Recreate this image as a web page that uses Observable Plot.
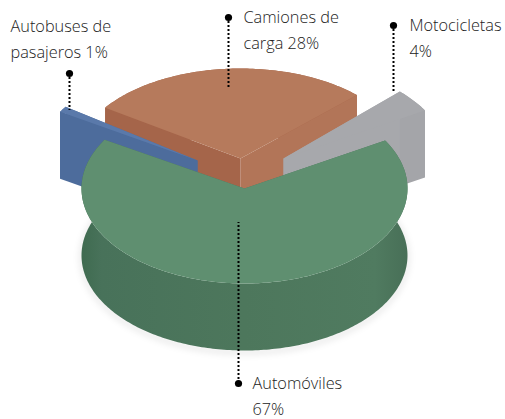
<!DOCTYPE html>
<html><head><meta charset="utf-8">
<style>
html,body{margin:0;padding:0;background:#fff}
svg{display:block}
.slice{filter:blur(.7px)}
.halo{filter:blur(3px)}
</style>
<script src="https://cdn.jsdelivr.net/npm/d3@7"></script>
<script src="https://cdn.jsdelivr.net/npm/@observablehq/plot@0.6"></script>
</head><body><div id="chart"></div>
<script>
// Data, in pie order (clockwise from the upper left)
const categories = ["Camiones de carga", "Motocicletas", "Automóviles", "Autobuses de pasajeros"];
const shares = [28, 4, 67, 1];
const labelTexts = ["Camiones de\ncarga 28%", "Motocicletas\n4%", "Automóviles\n67%", "Autobuses de\npasajeros 1%"];

// Styling and layout, kept apart from the data
const topFill = ["#b67a5c", "#a7a8ac", "#5f8f70", "#5a79aa"];
const startFill = ["#a5654a", "#a7a8ac", "#4c765b", "#4d6c9c"];
const endFill = ["#b27558", "#a4a5a9", "#4c765b", "#4d6c9c"];
const rimFill = ["#a5654a", "#a4a5a9", "url(#greenRim)", "#4d6c9c"];
const centerX = [240, 283, 244, 197];
const centerY = [158, 158, 188, 160];
const radiusX = [164, 164, 163, 160];
const radiusY = [90, 95, 95, 95];
const depth = 67;
const firstAngle = -145.6;
const labelX = [243, 409, 252, 10];
const labelY = [27, 35, 393, 36];
const leaderX = [228, 393, 238, 69];
const leaderFrom = [17, 25, 383, 73];
const leaderTo = [87, 93, 222, 110];

const total = d3.sum(shares);
const rad = (d) => (d * Math.PI) / 180;
let cursor = firstAngle;
const slices = shares.map((v, i) => {
  const a0 = cursor, a1 = cursor + (v / total) * 360;
  cursor = a1;
  return {i, a0, a1};
});
const rimPoint = (s, a, dz = 0) => ({
  x: centerX[s.i] + radiusX[s.i] * Math.cos(rad(a)),
  y: centerY[s.i] + radiusY[s.i] * Math.sin(rad(a)) + dz
});
const apex = (s, dz = 0) => ({x: centerX[s.i], y: centerY[s.i] + dz});
const arc = (s, dz = 0) => {
  const n = Math.max(6, Math.ceil(s.a1 - s.a0));
  return d3.range(n + 1).map((k) => rimPoint(s, s.a0 + ((s.a1 - s.a0) * k) / n, dz));
};
const radial = (s, a) => [apex(s), rimPoint(s, a), rimPoint(s, a, depth), apex(s, depth)];
const face = (pts, fill) =>
  Plot.line(pts, {x: "x", y: "y", fill, stroke: "none", curve: "linear-closed", className: "slice"});

const sliceMarks = (s) => [
  face([...arc(s), ...arc(s, depth).reverse()], rimFill[s.i]),
  face(radial(s, s.a1), endFill[s.i]),
  face(radial(s, s.a0), startFill[s.i]),
  face([apex(s), ...arc(s)], topFill[s.i])
];
// Painter's order: back slices first, the large green slice last
const order = [0, 3, 1, 2];

const gradient = () => {
  const g = d3.create("svg:defs").append("linearGradient").attr("id", "greenRim");
  [[0, "#3f6b50"], [0.06, "#48725a"], [0.5, "#4d775c"], [0.9, "#507b60"], [1, "#486f57"]]
    .forEach(([o, c]) => g.append("stop").attr("offset", o).attr("stop-color", c));
  return g.node().parentNode;
};

const leaders = d3.range(categories.length);

const chart = Plot.plot({
  width: 505, height: 419,
  margin: 0,
  x: {domain: [0, 505], range: [0, 505], axis: null},
  y: {domain: [0, 419], range: [0, 419], axis: null},
  style: {background: "#fff"},
  marks: [
    gradient,
    Plot.line(arc(slices[2], depth + 2), {x: "x", y: "y", stroke: "#000", strokeOpacity: 0.1, strokeWidth: 4, className: "halo"}),
    ...order.flatMap((i) => sliceMarks(slices[i])),
    Plot.ruleX(leaders, {
      x: (i) => leaderX[i], y1: (i) => leaderFrom[i], y2: (i) => leaderTo[i],
      stroke: "#000", strokeWidth: 2, strokeDasharray: "2 2"
    }),
    Plot.dot(leaders, {
      x: (i) => leaderX[i], y: (i) => leaderFrom[i], r: 3.6, fill: "#000", stroke: "none"
    }),
    Plot.text(labelTexts, {
      x: (d, i) => labelX[i], y: (d, i) => labelY[i], text: (d) => d,
      textAnchor: "start", lineAnchor: "middle", lineHeight: 1.64,
      fontFamily: "'Open Sans'", fontSize: 16.3, fontWeight: 300, fill: "#222"
    })
  ]
});
document.getElementById("chart").append(chart);
</script></body></html>
